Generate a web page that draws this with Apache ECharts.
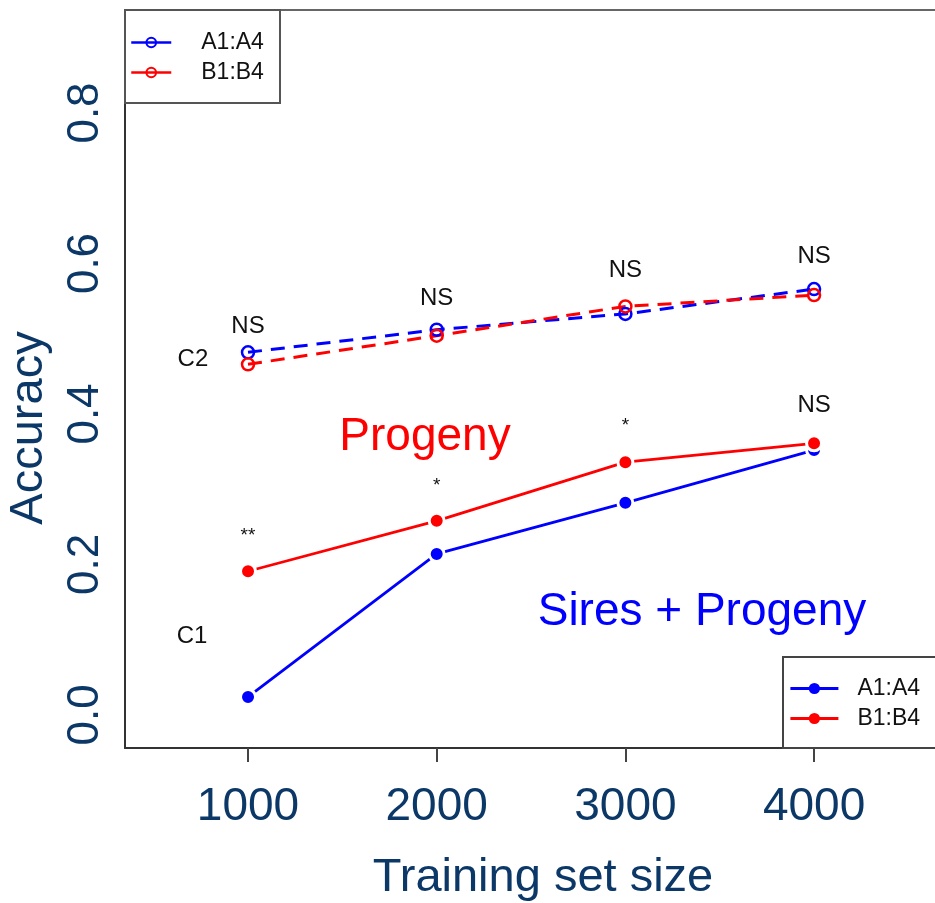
<!DOCTYPE html>
<html><head><meta charset="utf-8">
<script src="https://cdn.jsdelivr.net/npm/echarts@6/dist/echarts.min.js"></script>
<style>html,body{margin:0;padding:0;background:#fff}#c{width:935px;height:903px}</style>
</head><body><div id="c"></div>
<script>
// ---- data ----
const sizes = [1000, 2000, 3000, 4000];
const c1A = [0.024, 0.214, 0.282, 0.352];   // Sires + Progeny, A1:A4 (solid blue)
const c1B = [0.191, 0.258, 0.336, 0.361];   // B1:B4 (solid red)
const c2A = [0.482, 0.512, 0.533, 0.566];   // A1:A4 (dashed blue)
const c2B = [0.466, 0.504, 0.543, 0.558];   // B1:B4 (dashed red)
const xTicks = [1000, 2000, 3000, 4000];
const yTicks = [0, 0.2, 0.4, 0.6, 0.8];
const seriesLabels = ['A1:A4', 'B1:B4'];
const sigText = ['NS', 'NS', 'NS', 'NS', 'NS', '*', '*', '**'];
const sigX    = [1000, 2000, 3000, 4000, 4000, 3000, 2000, 1000];
const sigY    = [0.516, 0.554, 0.591, 0.609, 0.412, 0.384, 0.305, 0.238];
const grpText = ['C2', 'C1'];
const grpX = [708, 703];
const grpY = [0.472, 0.105];
const noteText = ['Progeny', 'Sires + Progeny'];
const noteX = [1938, 3406];
const noteY = [0.369, 0.137];

const NAVY = '#0c3868';
const BLUE = '#0000ff';
const RED = '#ff0000';
const FONT = 'Liberation Sans, Arial, sans-serif';
const pairs = (ys) => sizes.map((x, i) => [x, ys[i]]);

const chart = echarts.init(document.getElementById('c'), null, {renderer: 'canvas'});

function solid(name, color, ys) {
  return {
    name, type: 'line', data: pairs(ys),
    symbol: 'circle', symbolSize: 15,
    itemStyle: {color, borderColor: '#fff', borderWidth: 3},
    lineStyle: {color, width: 2.8},
    z: 3
  };
}
function dashed(name, color, ys) {
  return {
    name, type: 'line', data: pairs(ys),
    symbol: 'circle', symbolSize: 12,
    itemStyle: {color: 'rgba(0,0,0,0)', borderColor: color, borderWidth: 2.5},
    lineStyle: {color, width: 3, type: [14, 9]},
    z: 3
  };
}

const option = {
  animation: false,
  backgroundColor: '#fff',
  grid: {left: 125, top: 10, right: 0, bottom: 155, show: false},
  xAxis: [{
    type: 'value', min: 348, max: 4641,
    axisLine: {show: true, onZero: false, lineStyle: {color: '#333', width: 2}}, splitLine: {show: false},
    axisTick: {show: true, inside: false, length: 14, lineStyle: {color: '#444', width: 2}, customValues: xTicks},
    axisLabel: {customValues: xTicks, color: NAVY, fontSize: 46, margin: 36, fontFamily: FONT, formatter: v => String(v)}
  }, {
    type: 'value', position: 'top', min: 348, max: 4641,
    axisLine: {show: true, onZero: false, lineStyle: {color: '#666', width: 2}},
    axisTick: {show: false}, axisLabel: {show: false}, splitLine: {show: false}
  }],
  yAxis: {
    type: 'value', min: -0.0439, max: 0.9369,
    axisLine: {show: true, onZero: false, lineStyle: {color: '#333', width: 2}}, splitLine: {show: false},
    axisTick: {show: false, customValues: yTicks},
    axisLabel: {customValues: yTicks, rotate: 90, margin: 17, color: NAVY, fontSize: 44,
      fontFamily: FONT, formatter: v => v.toFixed(1)}
  },
  legend: [
    {
      data: ['C2 ' + seriesLabels[0], 'C2 ' + seriesLabels[1]],
      formatter: n => n.slice(3),
      orient: 'vertical', left: 125, top: 10,
      itemWidth: 40, itemHeight: 12, itemGap: 7,
      padding: [21, 14, 20, 5],
      borderWidth: 0, z: 10,
      lineStyle: {type: 'solid', width: 2.5},
      textStyle: {fontSize: 23, lineHeight: 22, color: '#111', padding: [0, 0, 0, 25], fontFamily: FONT},
      selectedMode: false
    },
    {
      data: ['C1 ' + seriesLabels[0], 'C1 ' + seriesLabels[1]],
      formatter: n => n.slice(3),
      orient: 'vertical', left: 783, top: 657,
      itemWidth: 48, itemHeight: 14, itemGap: 7,
      padding: [20, 10, 20, 6],
      borderWidth: 0, z: 10,
      itemStyle: {borderWidth: 0},
      lineStyle: {width: 2.8},
      textStyle: {fontSize: 23, lineHeight: 22, color: '#111', padding: [0, 0, 0, 14], fontFamily: FONT},
      selectedMode: false
    }
  ],
  graphic: [
    {type: 'rect', z: 9, shape: {x: 125, y: 10, width: 155, height: 93},
      style: {fill: '#fff', stroke: '#555', lineWidth: 2}},
    {type: 'rect', z: 9, shape: {x: 783, y: 657, width: 200, height: 91},
      style: {fill: '#fff', stroke: '#444', lineWidth: 2}},
    {type: 'text', x: 29, y: 428, rotation: Math.PI / 2,
      style: {text: 'Accuracy', fill: NAVY, font: '47px "Liberation Sans", Arial, sans-serif', align: 'center', verticalAlign: 'middle'}},
    {type: 'text', x: 543, y: 878,
      style: {text: 'Training set size', fill: NAVY, font: '47px "Liberation Sans", Arial, sans-serif', align: 'center', verticalAlign: 'middle'}}
  ],
  series: [
    dashed('C2 ' + seriesLabels[0], BLUE, c2A),
    dashed('C2 ' + seriesLabels[1], RED, c2B),
    solid('C1 ' + seriesLabels[0], BLUE, c1A),
    solid('C1 ' + seriesLabels[1], RED, c1B),
    {
      name: 'sig', type: 'scatter', symbolSize: 0, silent: true, z: 5,
      itemStyle: {opacity: 1},
      data: sigX.map((x, i) => ({value: [x, sigY[i]],
        label: {formatter: sigText[i], fontSize: sigText[i] === 'NS' ? 24 : 19}})),
      label: {show: true, position: 'inside', color: '#111', fontFamily: FONT}
    },
    {
      name: 'grp', type: 'scatter', symbolSize: 0, silent: true, z: 5,
      itemStyle: {opacity: 1},
      data: grpX.map((x, i) => ({value: [x, grpY[i]], label: {formatter: grpText[i]}})),
      label: {show: true, position: 'inside', color: '#111', fontSize: 24, fontFamily: FONT}
    },
    {
      name: 'notes', type: 'scatter', symbolSize: 0, silent: true, z: 5,
      itemStyle: {opacity: 1},
      data: noteX.map((x, i) => ({value: [x, noteY[i]], label: {formatter: noteText[i], color: i === 0 ? RED : BLUE}})),
      label: {show: true, position: 'inside', fontSize: 46, fontFamily: FONT}
    }
  ]
};
chart.setOption(option);
</script>
</body></html>
